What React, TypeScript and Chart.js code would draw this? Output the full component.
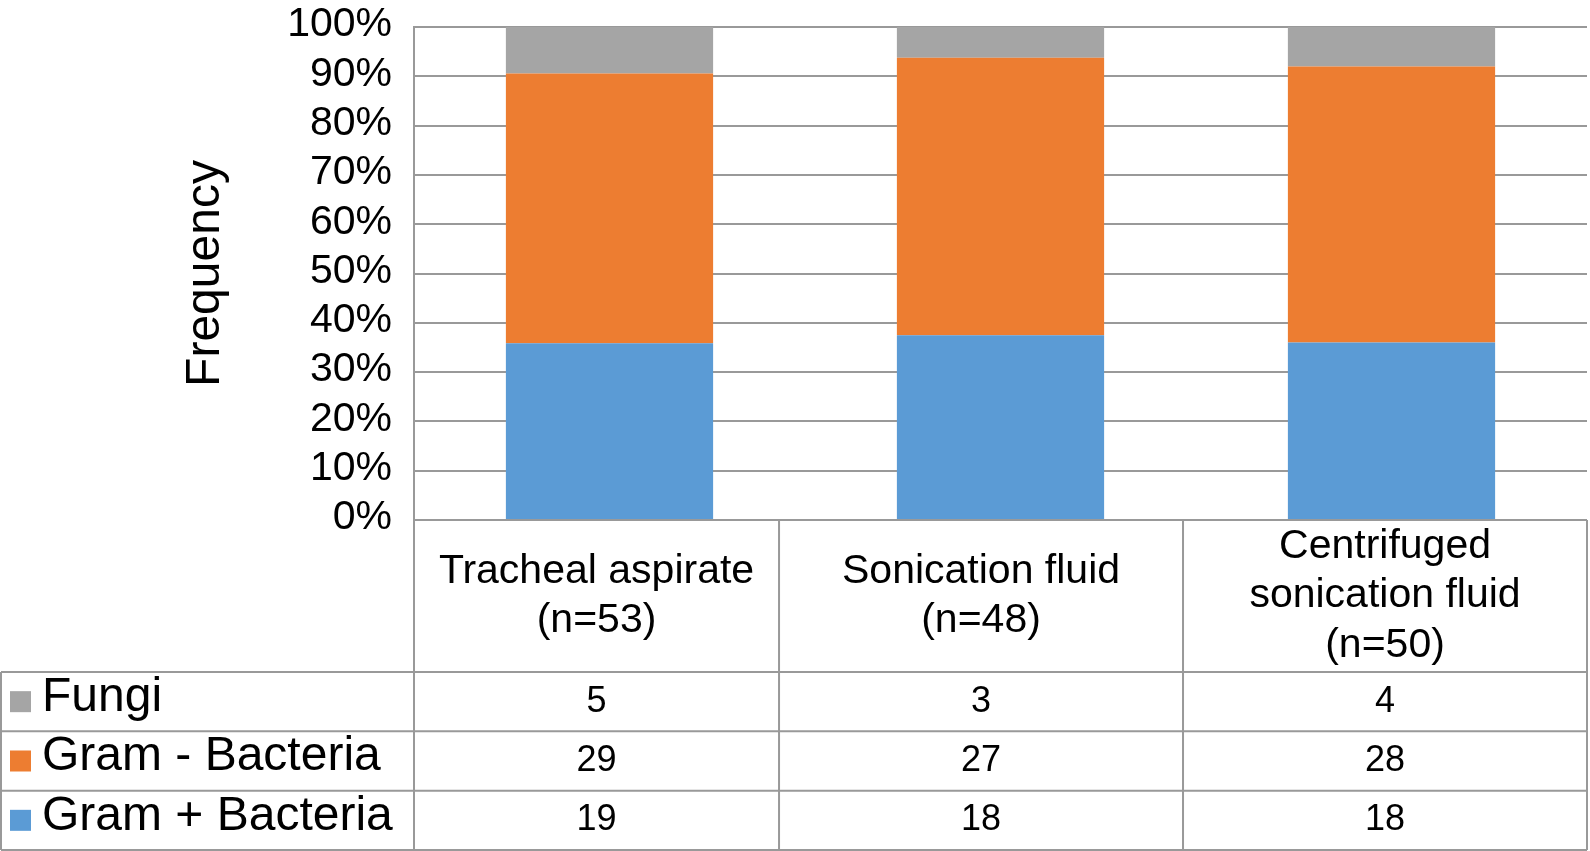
import React, { useEffect, useRef } from "react";
import { Chart, registerables } from "chart.js";

Chart.register(...registerables);

// ---- data ----
const categoryLines: string[][] = [
  ["Tracheal aspirate", "(n=53)"],
  ["Sonication fluid", "(n=48)"],
  ["Centrifuged", "sonication fluid", "(n=50)"],
];
const seriesNames = ["Fungi", "Gram - Bacteria", "Gram + Bacteria"];
const fungi = [5, 3, 4];
const gramNeg = [29, 27, 28];
const gramPos = [19, 18, 18];
const yTickStep = 10;
const yMax = 100;

// ---- style ----
const FONT = '"Liberation Sans", Arial, Helvetica, sans-serif';
const GRAY = "#A5A5A5";
const ORANGE = "#ED7D31";
const BLUE = "#5B9BD5";
const LINE = "#999999";

const totals = fungi.map((_, i) => fungi[i] + gramNeg[i] + gramPos[i]);
const pct = (arr: number[]) => arr.map((v, i) => (v / totals[i]) * 100);

const tableRows = [
  { name: seriesNames[0], color: GRAY, values: fungi },
  { name: seriesNames[1], color: ORANGE, values: gramNeg },
  { name: seriesNames[2], color: BLUE, values: gramPos },
];

// table layout (fractions of plot width for column edges, matching reference)
const COL_FRACS = [0, 0.3112, 0.6556, 1];
const CAT_ROW_H = 152;
const ROW_H = 59.33;

const tablePlugin = {
  id: "dataTable",
  afterDraw(chart: any) {
    const { ctx, chartArea } = chart;
    const L = chartArea.left;
    const R = chartArea.right;
    const T = chartArea.bottom;
    const W = R - L;
    const cols = COL_FRACS.map((f) => L + f * W);
    const rowTop = T + CAT_ROW_H;
    const bottom = rowTop + ROW_H * tableRows.length;

    ctx.save();
    ctx.strokeStyle = LINE;
    ctx.lineWidth = 2;
    ctx.beginPath();
    ctx.moveTo(L, T);
    ctx.lineTo(R, T);
    for (let r = 0; r <= tableRows.length; r++) {
      const y = rowTop + r * ROW_H;
      ctx.moveTo(1, y);
      ctx.lineTo(R, y);
    }
    ctx.moveTo(1, rowTop);
    ctx.lineTo(1, bottom);
    cols.forEach((x) => {
      ctx.moveTo(x, T);
      ctx.lineTo(x, bottom);
    });
    ctx.stroke();

    // category labels
    ctx.fillStyle = "#000";
    ctx.textAlign = "center";
    ctx.textBaseline = "middle";
    ctx.font = `41px ${FONT}`;
    const lh = 49.5;
    const cy = T + CAT_ROW_H / 2;
    categoryLines.forEach((lines, i) => {
      const cx = (cols[i] + cols[i + 1]) / 2;
      lines.forEach((t, j) => {
        ctx.fillText(t, cx, cy + (j - (lines.length - 1) / 2) * lh);
      });
    });

    // rows
    tableRows.forEach((row, r) => {
      const cyr = rowTop + r * ROW_H + ROW_H / 2;
      ctx.fillStyle = row.color;
      ctx.fillRect(10, cyr - 10.5, 21, 21);
      ctx.fillStyle = "#000";
      ctx.textAlign = "left";
      ctx.font = `48px ${FONT}`;
      ctx.fillText(row.name, 42, cyr - 4);
      ctx.textAlign = "center";
      ctx.font = `36px ${FONT}`;
      row.values.forEach((v, i) => {
        const cx = (cols[i] + cols[i + 1]) / 2;
        ctx.fillText(String(v), cx, cyr);
      });
    });
    ctx.restore();
  },
};

export default function App() {
  const ref = useRef<HTMLCanvasElement | null>(null);

  useEffect(() => {
    document.body.style.margin = "0";
    document.body.style.overflow = "hidden";
    const canvas = ref.current;
    if (!canvas) return;
    const chart = new Chart(canvas, {
      type: "bar",
      data: {
        labels: categoryLines.map((l) => l.join(" ")),
        datasets: [
          { label: seriesNames[2], data: pct(gramPos), backgroundColor: BLUE },
          { label: seriesNames[1], data: pct(gramNeg), backgroundColor: ORANGE },
          { label: seriesNames[0], data: pct(fungi), backgroundColor: GRAY },
        ],
      },
      options: {
        responsive: false,
        animation: false,
        devicePixelRatio: 1,
        layout: { padding: { top: 27, right: 3, bottom: 331, left: 0 } },
        datasets: {
          bar: { categoryPercentage: 1, barPercentage: 0.53, borderWidth: 0 },
        },
        plugins: {
          legend: { display: false },
          tooltip: { enabled: false },
          title: { display: false },
        },
        scales: {
          x: {
            stacked: true,
            display: false,
          },
          y: {
            stacked: true,
            min: 0,
            max: yMax,
            afterFit: (scale: any) => {
              scale.width = 414;
            },
            ticks: {
              stepSize: yTickStep,
              autoSkip: false,
              callback: (v: any) => `${v}%`,
              color: "#000",
              font: { family: FONT, size: 41 },
              padding: 0,
              labelOffset: -2,
            },
            grid: {
              color: LINE,
              lineWidth: 2,
              drawTicks: true,
              tickLength: 22,
              tickColor: "rgba(0,0,0,0)",
            },
            border: { display: true, color: LINE, width: 2 },
            title: {
              display: true,
              text: "Frequency",
              color: "#000",
              font: { family: FONT, size: 48 },
              padding: { top: 177, bottom: 0 },
            },
          },
        },
      },
      plugins: [tablePlugin],
    });
    return () => chart.destroy();
  }, []);

  return (
    <div style={{ position: "absolute", left: 0, top: 0, width: 1590, height: 851 }}>
      <canvas ref={ref} width={1590} height={851} />
    </div>
  );
}
